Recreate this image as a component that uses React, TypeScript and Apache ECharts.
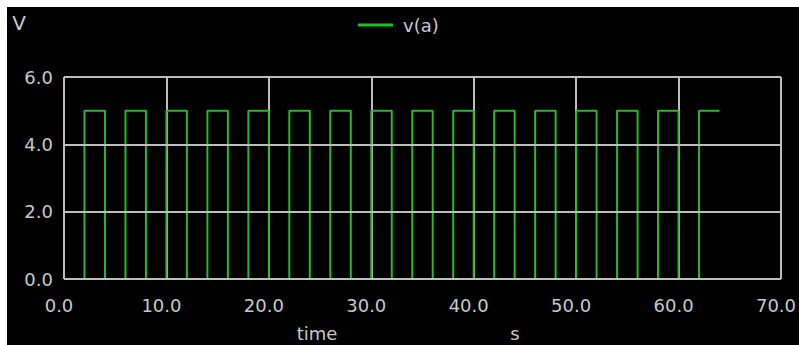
import React, { useEffect, useRef } from "react";
import * as echarts from "echarts";

// Data (ngspice-like transient plot of v(a))
const seriesName = "v(a)";
const highLevel = 5.0;
const lowLevel = 0.0;
const startTime = 0.0;
const endTime = 64.0;
// rising edges (s)
const riseTimes = [2, 6, 10, 14, 18, 22, 26, 30, 34, 38, 42, 46, 50, 54, 58, 62];
// falling edges (s) — last pulse does not fall before the trace ends
const fallTimes = [4, 8, 12, 16, 20, 24, 28, 32, 36, 40, 44, 48, 52, 56, 60];

const xTickLabels = ["0.0", "10.0", "20.0", "30.0", "40.0", "50.0", "60.0", "70.0"];
const yTickLabels = ["0.0", "2.0", "4.0", "6.0"];

function buildTrace(): [number, number][] {
  const pts: [number, number][] = [[startTime, lowLevel]];
  riseTimes.forEach((r, i) => {
    pts.push([r, lowLevel]);
    pts.push([r, highLevel]);
    if (i < fallTimes.length) {
      pts.push([fallTimes[i], highLevel]);
      pts.push([fallTimes[i], lowLevel]);
    } else {
      pts.push([endTime, highLevel]);
    }
  });
  return pts;
}

const FONT = "'DejaVu Sans', sans-serif";
const TEXT = "#c8c8c8";
const GRID = "#bdbdbd";
const GREEN = "#26bb26";

export default function App() {
  const ref = useRef<HTMLDivElement>(null);
  useEffect(() => {
    if (!ref.current) return;
    const chart = echarts.init(ref.current, undefined, { renderer: "svg" });
    chart.setOption({
      animation: false,
      backgroundColor: "#000000",
      textStyle: { fontFamily: FONT },
      grid: { left: 57, top: 70, right: 18, bottom: 66, containLabel: false },
      legend: {
        data: [{ name: seriesName, icon: "rect" }],
        left: 346,
        top: 4,
        itemWidth: 35,
        itemHeight: 3,
        textStyle: { color: TEXT, fontSize: 18, fontFamily: FONT, padding: [0, 0, 0, 5] },
      },
      xAxis: {
        type: "value",
        min: 0,
        max: 70,
        interval: 10,
        z: 0,
        axisLine: { show: false },
        axisTick: { show: false },
        splitLine: { show: true, lineStyle: { color: GRID, width: 2 } },
        axisLabel: {
          color: TEXT,
          fontSize: 18,
          fontFamily: FONT,
          margin: 17,
          padding: [0, 10, 0, 0],
          formatter: (v: number) => xTickLabels[Math.round(v / 10)] ?? v.toFixed(1),
        },
      },
      yAxis: {
        type: "value",
        min: 0,
        max: 6,
        interval: 2,
        z: 3,
        axisLine: { show: false },
        axisTick: { show: false },
        splitLine: { show: true, lineStyle: { color: GRID, width: 2 } },
        axisLabel: {
          color: TEXT,
          fontSize: 18,
          fontFamily: FONT,
          margin: 11,
          padding: [8, 0, 0, 0],
          formatter: (v: number) => yTickLabels[Math.round(v / 2)] ?? v.toFixed(1),
        },
      },
      series: [
        {
          name: seriesName,
          type: "line",
          data: buildTrace(),
          showSymbol: false,
          symbol: "none",
          z: 2,
          lineStyle: { color: GREEN, width: 2 },
          itemStyle: { color: GREEN },
        },
      ],
      graphic: [
        {
          type: "text",
          x: 12,
          y: 16,
          style: {
            text: "V",
            fill: TEXT,
            fontSize: 20,
            fontFamily: FONT,
            align: "center",
            verticalAlign: "middle",
          },
        },
        {
          type: "text",
          x: 310,
          y: 326,
          style: {
            text: "time",
            fill: TEXT,
            fontSize: 18,
            fontFamily: FONT,
            align: "center",
            verticalAlign: "middle",
          },
        },
        {
          type: "text",
          x: 508,
          y: 326,
          style: {
            text: "s",
            fill: TEXT,
            fontSize: 18,
            fontFamily: FONT,
            align: "center",
            verticalAlign: "middle",
          },
        },
      ],
    });
    return () => chart.dispose();
  }, []);
  return (
    <div
      ref={ref}
      style={{ position: "fixed", left: 7, top: 7, width: 792, height: 338 }}
    />
  );
}
